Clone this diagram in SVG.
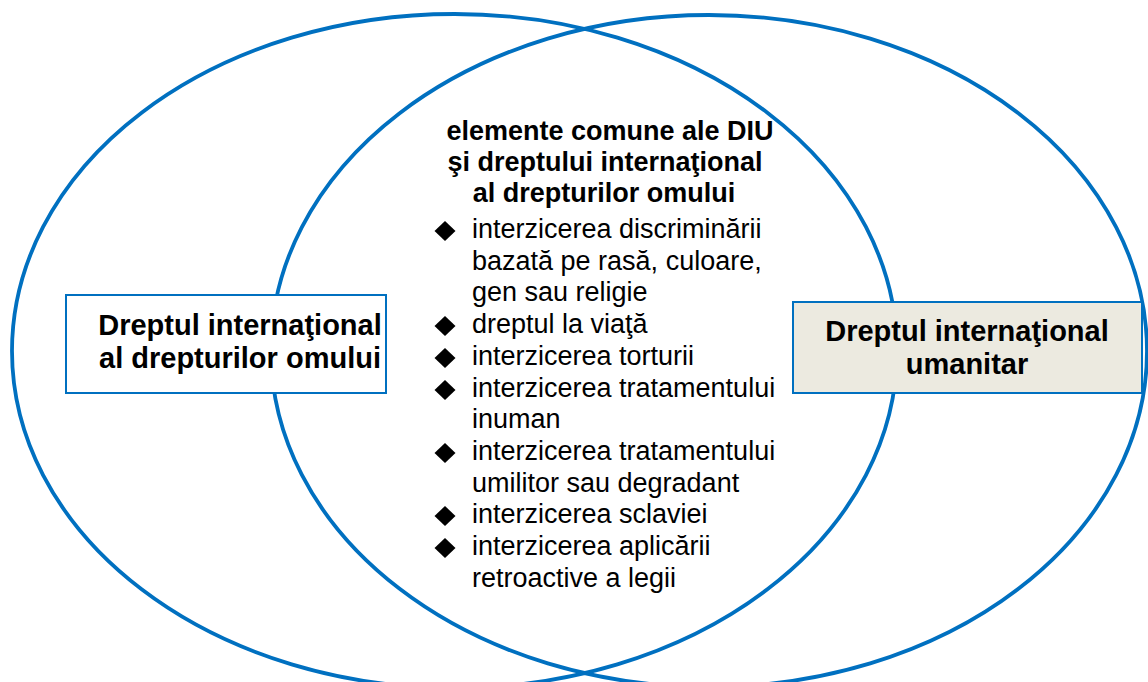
<svg xmlns="http://www.w3.org/2000/svg" width="1148" height="682" viewBox="0 0 1148 682">
<defs>
<style>
.ell{fill:none;stroke:#0070C0;stroke-width:3.8}
.box{stroke:#0070C0;stroke-width:2}
.bt{font-family:"Liberation Sans",Arial,sans-serif;font-weight:bold;font-size:29px;fill:#000;text-anchor:middle}
.tt{font-family:"Liberation Sans",Arial,sans-serif;font-weight:bold;font-size:27px;fill:#000;text-anchor:middle}
.li{font-family:"Liberation Sans",Arial,sans-serif;font-size:27px;fill:#000}
.dm{fill:#000}
</style>
<path id="dia" d="M0,-10 L10.5,0 L0,10 L-10.5,0 Z"/>
</defs>
<rect width="1148" height="682" fill="#fff"/>
<g id="circles">
<ellipse id="left-set" class="ell" cx="454.5" cy="351" rx="442.5" ry="337"/>
<ellipse id="right-set" class="ell" cx="709" cy="351" rx="438" ry="336"/>
</g>
<g id="node-left">
<rect class="box" x="66" y="295" width="320" height="98" fill="#fff"/>
<text class="bt" x="240" y="335">Dreptul internaţional</text>
<text class="bt" x="240" y="368">al drepturilor omului</text>
</g>
<g id="node-right">
<rect class="box" x="793" y="302" width="349" height="91" fill="#ECEAE0"/>
<text class="bt" x="967" y="341">Dreptul internaţional</text>
<text class="bt" x="967" y="374">umanitar</text>
</g>
<g id="node-common">
<text class="tt" x="610" y="140">elemente comune ale DIU</text>
<text class="tt" x="605" y="171">şi dreptului internaţional</text>
<text class="tt" x="604" y="202">al drepturilor omului</text>
<use href="#dia" class="dm" x="445" y="231"/>
<use href="#dia" class="dm" x="445" y="326"/>
<use href="#dia" class="dm" x="445" y="358"/>
<use href="#dia" class="dm" x="445" y="390"/>
<use href="#dia" class="dm" x="445" y="453"/>
<use href="#dia" class="dm" x="445" y="516"/>
<use href="#dia" class="dm" x="445" y="548"/>
<text class="li" x="472" y="238">interzicerea discriminării</text>
<text class="li" x="472" y="270">bazată pe rasă, culoare,</text>
<text class="li" x="472" y="301">gen sau religie</text>
<text class="li" x="472" y="333">dreptul la viaţă</text>
<text class="li" x="472" y="365">interzicerea torturii</text>
<text class="li" x="472" y="397">interzicerea tratamentului</text>
<text class="li" x="472" y="428">inuman</text>
<text class="li" x="472" y="460">interzicerea tratamentului</text>
<text class="li" x="472" y="492">umilitor sau degradant</text>
<text class="li" x="472" y="523">interzicerea sclaviei</text>
<text class="li" x="472" y="555">interzicerea aplicării</text>
<text class="li" x="472" y="587">retroactive a legii</text>
</g>
</svg>
